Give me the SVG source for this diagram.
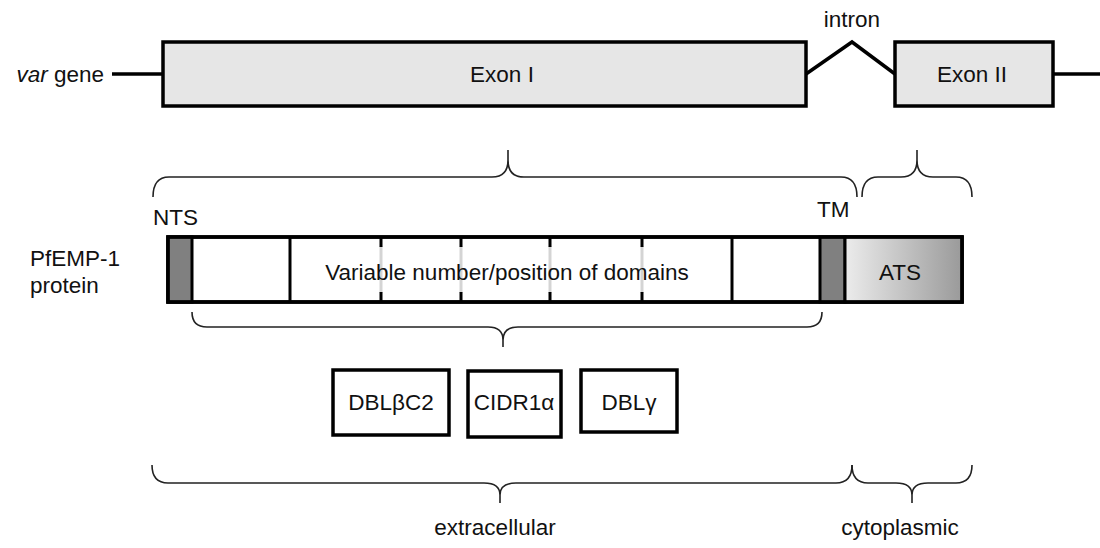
<svg xmlns="http://www.w3.org/2000/svg" width="1100" height="548" viewBox="0 0 1100 548">
  <defs>
    <linearGradient id="atsFill" x1="0" y1="0" x2="1" y2="0">
      <stop offset="0" stop-color="#ececec"/>
      <stop offset="1" stop-color="#9a9a9a"/>
    </linearGradient>
  </defs>
  <style>
    text { font-family: "Liberation Sans", Arial, sans-serif; font-size: 22.5px; fill: #111; }
    .mid { text-anchor: middle; }
    .exon { fill: #e6e6e6; stroke: #000; stroke-width: 3.5; }
    .wire { fill: none; stroke: #000; stroke-width: 3.5; }
    .bar { fill: #fff; stroke: #000; stroke-width: 3.5; }
    .dark { fill: #808080; stroke: #000; stroke-width: 3; }
    .div { stroke: #000; stroke-width: 3; }
    .soft { stroke: #d4d4d4; stroke-width: 3; }
    .brace { fill: none; stroke: #222; stroke-width: 1.6; }
    .box { fill: #fff; stroke: #000; stroke-width: 3.5; }
  </style>

  <!-- gene structure -->
  <g id="gene">
    <text x="104" y="82" text-anchor="end"><tspan font-style="italic">var</tspan> gene</text>
    <line class="wire" x1="112" y1="74" x2="163" y2="74"/>
    <line class="wire" x1="1053" y1="74" x2="1100" y2="74"/>
  </g>
  <g id="exon1">
    <rect class="exon" x="163" y="42" width="643" height="64"/>
    <text class="mid" x="502" y="82">Exon I</text>
  </g>
  <g id="intron">
    <polyline class="wire" points="806,74 852,42 895,74"/>
    <text class="mid" x="852" y="27">intron</text>
  </g>
  <g id="exon2">
    <rect class="exon" x="895" y="42" width="158" height="64"/>
    <text class="mid" x="972" y="82">Exon II</text>
  </g>

  <!-- protein bar -->
  <g id="protein-label">
    <text x="30" y="266">PfEMP-1</text>
    <text x="30" y="293">protein</text>
  </g>
  <g id="protein">
    <rect class="bar" x="168" y="237" width="794" height="65"/>
    <rect class="dark" x="168" y="237" width="24" height="65"/>
    <rect class="dark" x="820" y="237" width="25" height="65"/>
    <rect x="845" y="237" width="117" height="65" fill="url(#atsFill)" stroke="#000" stroke-width="3"/>
    <rect x="168" y="237" width="794" height="65" fill="none" stroke="#000" stroke-width="3.5"/>
    <line class="div" x1="290" y1="237" x2="290" y2="302"/>
    <line class="div" x1="732" y1="237" x2="732" y2="302"/>
    <!-- dividers between variable domains -->
    <g id="variable-dividers">
      <line class="soft" x1="381" y1="246" x2="381" y2="293"/>
      <line class="soft" x1="461" y1="246" x2="461" y2="293"/>
      <line class="soft" x1="550" y1="246" x2="550" y2="293"/>
      <line class="soft" x1="642" y1="246" x2="642" y2="293"/>
      <path class="div" d="M381 237V247M381 292V302M461 237V247M461 292V302M550 237V247M550 292V302M642 237V247M642 292V302"/>
    </g>
    <text class="mid" x="507" y="280">Variable number/position of domains</text>
    <text class="mid" x="900" y="280">ATS</text>
    <text x="153" y="225">NTS</text>
    <text x="817" y="217">TM</text>
  </g>

  <!-- example domains -->
  <g id="dbl-beta-c2">
    <rect class="box" x="333" y="370" width="116" height="65"/>
    <text class="mid" x="391" y="410">DBLβC2</text>
  </g>
  <g id="cidr1-alpha">
    <rect class="box" x="468" y="371" width="93" height="66"/>
    <text class="mid" x="514" y="410">CIDR1α</text>
  </g>
  <g id="dbl-gamma">
    <rect class="box" x="581" y="370" width="96" height="62"/>
    <text class="mid" x="629" y="410">DBLγ</text>
  </g>

  <!-- braces -->
  <g id="connectors">
    <path class="brace" d="M153 197Q153 177 169 177H492Q508 177 508 160V150M508 160Q508 177 524 177H841Q857 177 857 197"/>
    <path class="brace" d="M862 197Q862 177 878 177H901Q917 177 917 160V150M917 160Q917 177 933 177H956Q972 177 972 197"/>
    <path class="brace" d="M192 312Q192 327 207 327H488Q503 327 503 340V347M503 340Q503 327 518 327H807Q822 327 822 312"/>
    <path class="brace" d="M152 465Q152 483 168 483H484Q500 483 500 495V503M500 495Q500 483 516 483H836Q852 483 852 465"/>
    <path class="brace" d="M852 465Q852 483 868 483H896Q912 483 912 495V503M912 495Q912 483 928 483H956Q972 483 972 465"/>
  </g>
  <g id="region-labels">
    <text class="mid" x="495" y="535">extracellular</text>
    <text class="mid" x="900" y="535">cytoplasmic</text>
  </g>
</svg>
